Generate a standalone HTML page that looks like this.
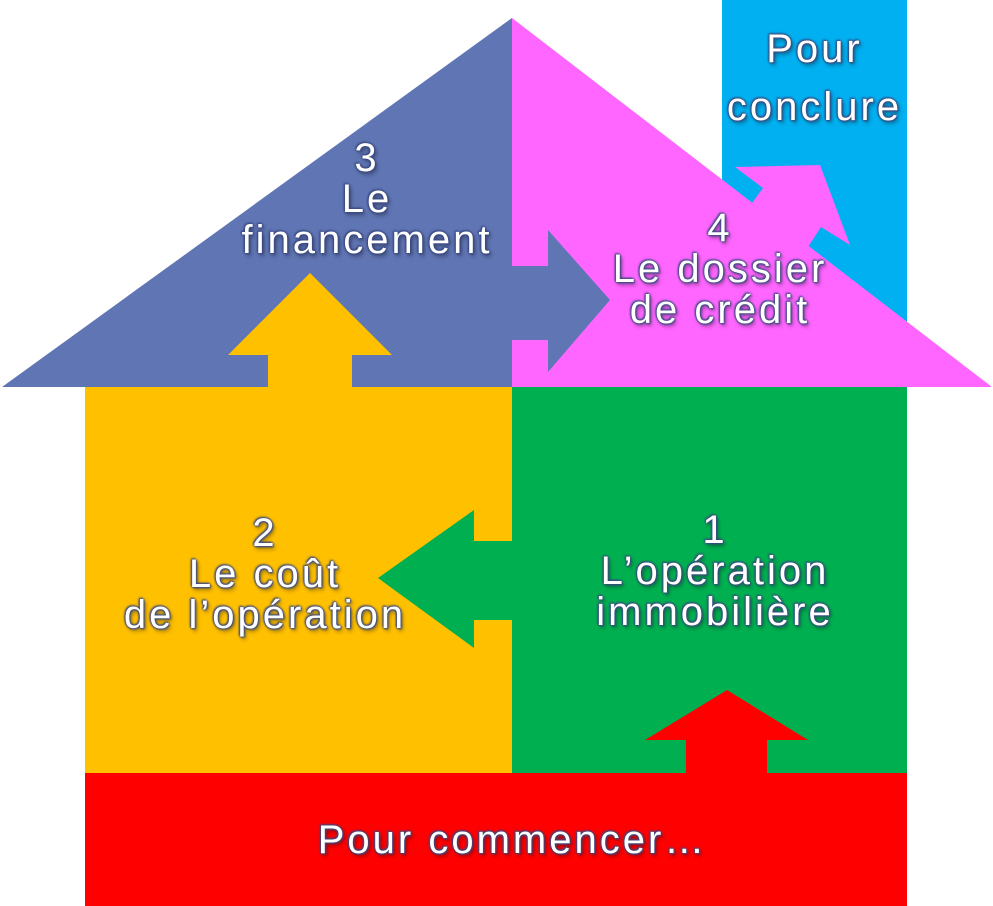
<!DOCTYPE html>
<html><head><style>
body{margin:0;width:993px;height:906px;background:#fff;overflow:hidden;position:relative}
svg{position:absolute;left:0;top:0}
.t{position:absolute;text-align:center;color:#fff;font-family:"Liberation Sans",sans-serif;font-size:40px;line-height:41px;letter-spacing:3px;
text-shadow:0 0 2px #3a4a80,0 0 2px #3a4a80,1px 1px 2px #3a4a80,-1px -1px 2px #3a4a80,2px 3px 4px rgba(0,0,0,.4)}
</style></head><body>
<svg width="993" height="906">
<rect x="722" y="0" width="185" height="330" fill="#00b0f0"/>
<polygon points="2,387 512,18 512,387" fill="#6075b4"/>
<polygon points="512,18 992,387 512,387" fill="#ff66ff"/>
<polygon points="735,167 820,165 850,245 821,227 808,247 700,330 680,260 752,203 763,188" fill="#ff66ff"/>
<rect x="85" y="387" width="427" height="386" fill="#ffc000"/>
<rect x="512" y="387" width="395" height="386" fill="#00b050"/>
<rect x="85" y="773" width="822" height="133" fill="#ff0000"/>
<polygon points="512,266 548,266 548,230 610,300 548,372 548,340 512,340" fill="#6075b4"/>
<polygon points="268,387 268,355 228,355 310,273 392,355 352,355 352,387" fill="#ffc000"/>
<polygon points="512,541 474,541 474,510 378,578 474,648 474,620 512,620" fill="#00b050"/>
<polygon points="686,773 686,740 645,740 727,690 808,740 767,740 767,773" fill="#ff0000"/>
</svg>
<div class="t" style="left:217px;top:138px;width:300px">3<br>Le<br>financement</div>
<div class="t" style="left:570px;top:208px;width:300px">4<br>Le dossier<br>de crédit</div>
<div class="t" style="left:712px;top:20px;width:205px;line-height:58px">Pour<br>conclure</div>
<div class="t" style="left:90px;top:513px;width:350px">2<br>Le coût<br>de l’opération</div>
<div class="t" style="left:550px;top:510px;width:330px">1<br>L’opération<br>immobilière</div>
<div class="t" style="left:85px;top:820px;width:855px">Pour commencer…</div>
</body></html>
